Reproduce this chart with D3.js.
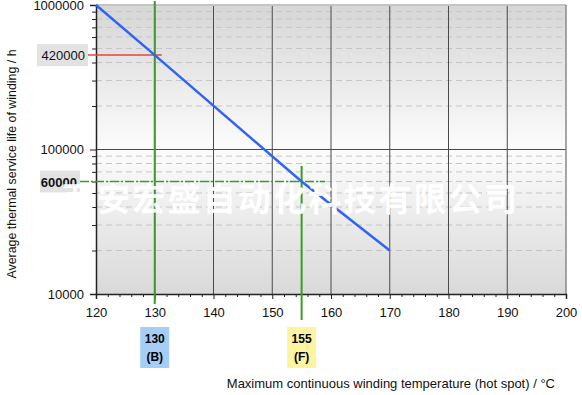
<!DOCTYPE html>
<html>
<head>
<meta charset="utf-8">
<script src="https://cdn.jsdelivr.net/npm/d3@7"></script>
<style>
  body { margin: 0; background: #fff; }
  svg { font-family: "Liberation Sans", Arial, sans-serif; }
</style>
</head>
<body>
<svg id="chart"></svg>
<script>
// life curve
const lifeTemps = [120, 130, 155, 170];
const lifeHours = [1000000, 450000, 60000, 20000];

// insulation classes
const classTemps = [130, 155];
const classLabels = ["130", "155"];
const classLetters = ["(B)", "(F)"];

// reference lives
const refLifeValues = [450000, 60000];
const refLifeLabels = ["420000", "60000"];

const xTicks = [120, 130, 140, 150, 160, 170, 180, 190, 200];
const yTicks = [10000, 100000, 1000000];

const width = 582, height = 395;
const plotL = 96, plotR = 566, plotT = 5, plotB = 294;

const svg = d3.select("#chart").attr("width", width).attr("height", height);

const x = d3.scaleLinear().domain([120, 200]).range([plotL, plotR]);
const y = d3.scaleLog().domain([10000, 1000000]).range([plotB, plotT]);

// background gradient
const defs = svg.append("defs");
const grad = defs.append("linearGradient").attr("id", "bg")
  .attr("x1", 0).attr("y1", 0).attr("x2", 0).attr("y2", 1);
grad.append("stop").attr("offset", "0%").attr("stop-color", "#d6d6d6");
grad.append("stop").attr("offset", "50%").attr("stop-color", "#fcfcfc");
grad.append("stop").attr("offset", "100%").attr("stop-color", "#d9d9d9");

svg.append("rect")
  .attr("x", plotL).attr("y", plotT)
  .attr("width", plotR - plotL).attr("height", plotB - plotT)
  .attr("fill", "url(#bg)");

// minor horizontal dashed grid
let minors = [];
[10000, 100000].forEach(d => { for (let k = 2; k <= 9; k++) minors.push(d * k); });
svg.append("g").selectAll("line").data(minors).join("line")
  .attr("x1", plotL).attr("x2", plotR)
  .attr("y1", d => y(d)).attr("y2", d => y(d))
  .attr("stroke", "#c6c6c6").attr("stroke-dasharray", "6,4");

// major grid
svg.append("g").selectAll("line").data(xTicks.slice(1, -1)).join("line")
  .attr("x1", d => x(d)).attr("x2", d => x(d))
  .attr("y1", plotT).attr("y2", plotB)
  .attr("stroke", "#4a4a4a");
svg.append("line")
  .attr("x1", plotL).attr("x2", plotR)
  .attr("y1", y(100000)).attr("y2", y(100000))
  .attr("stroke", "#4a4a4a");

// frame
svg.append("line").attr("x1", plotL).attr("x2", plotR).attr("y1", plotT).attr("y2", plotT)
  .attr("stroke", "#c4c4c4").attr("stroke-width", 2);
svg.append("line").attr("x1", plotR).attr("x2", plotR).attr("y1", plotT).attr("y2", plotB)
  .attr("stroke", "#888").attr("stroke-width", 1.5);

// axes
svg.append("g").attr("transform", `translate(0,${plotB})`)
  .call(d3.axisBottom(x).tickValues(xTicks).tickSize(5).tickPadding(9).tickFormat(d3.format("d")));
svg.append("g").attr("transform", `translate(0,${plotB})`)
  .call(d3.axisBottom(x).tickValues(d3.range(122, 200, 2).filter(d => d % 10)).tickSize(3).tickFormat(""))
  .select(".domain").remove();
const yAxis = svg.append("g").attr("transform", `translate(${plotL},0)`)
  .call(d3.axisLeft(y).tickValues(yTicks).tickSize(6).tickPadding(6).tickFormat(d3.format("d")));
svg.append("g").attr("transform", `translate(${plotL},0)`)
  .call(d3.axisLeft(y).tickValues(minors).tickSize(4).tickFormat(""))
  .select(".domain").remove();

svg.selectAll(".domain").attr("stroke", "#222").attr("stroke-width", 1.5);
svg.selectAll(".tick line").attr("stroke", "#222");
svg.selectAll(".tick text").attr("font-size", 13).attr("fill", "#111")
  .attr("font-family", "Liberation Sans, Arial, sans-serif");
yAxis.selectAll(".tick text").attr("x", -12);

// reference lines
const green = "#3c9a2c";
svg.append("line")
  .attr("x1", x(130)).attr("x2", x(130))
  .attr("y1", 1).attr("y2", 304)
  .attr("stroke", green).attr("stroke-width", 2);
svg.append("line")
  .attr("x1", x(155)).attr("x2", x(155))
  .attr("y1", 166).attr("y2", 320)
  .attr("stroke", green).attr("stroke-width", 2);

svg.append("line")
  .attr("x1", 88).attr("x2", x(131.2))
  .attr("y1", y(refLifeValues[0])).attr("y2", y(refLifeValues[0]))
  .attr("stroke", "#e2483e").attr("stroke-width", 1.5);
svg.append("line")
  .attr("x1", 80).attr("x2", x(159))
  .attr("y1", y(refLifeValues[1])).attr("y2", y(refLifeValues[1]))
  .attr("stroke", green).attr("stroke-width", 1.5)
  .attr("stroke-dasharray", "9,2,2,2");

// life curve
svg.append("path")
  .datum(lifeTemps.map((t, i) => [t, lifeHours[i]]))
  .attr("fill", "none")
  .attr("stroke", "#2f64f5").attr("stroke-width", 2.5)
  .attr("d", d3.line().x(d => x(d[0])).y(d => y(d[1])));

// reference life labels
const refBoxes = [{ x: 37, w: 51, bold: false }, { x: 40, w: 40, bold: true }];
refLifeValues.forEach((v, i) => {
  const cy = y(v);
  svg.append("rect")
    .attr("x", refBoxes[i].x).attr("y", cy - 11)
    .attr("width", refBoxes[i].w).attr("height", 22)
    .attr("fill", "#e2e2e2");
  svg.append("text")
    .attr("x", refBoxes[i].x + refBoxes[i].w - 3).attr("y", cy + 5)
    .attr("text-anchor", "end")
    .attr("font-size", 13)
    .attr("font-weight", refBoxes[i].bold ? "bold" : "normal")
    .attr("fill", "#111")
    .text(refLifeLabels[i]);
});

// class boxes
const classFill = ["#a5cdf6", "#fdf4a2"];
classTemps.forEach((t, i) => {
  const cx = x(t);
  svg.append("rect")
    .attr("x", cx - 14.5).attr("y", 327)
    .attr("width", 29).attr("height", 41)
    .attr("fill", classFill[i]);
  svg.append("text")
    .attr("x", cx).attr("y", 343)
    .attr("text-anchor", "middle").attr("font-size", 12).attr("font-weight", "bold")
    .text(classLabels[i]);
  svg.append("text")
    .attr("x", cx).attr("y", 361)
    .attr("text-anchor", "middle").attr("font-size", 12).attr("font-weight", "bold")
    .text(classLetters[i]);
});

// axis titles
svg.append("text")
  .attr("x", 555).attr("y", 388)
  .attr("text-anchor", "end").attr("font-size", 13).attr("fill", "#111")
  .text("Maximum continuous winding temperature (hot spot) / °C");
svg.append("text")
  .attr("transform", "translate(16,164) rotate(-90)")
  .attr("text-anchor", "middle").attr("font-size", 12.4).attr("fill", "#111")
  .text("Average thermal service life of winding / h");

// watermark
svg.append("text")
  .attr("x", 62).attr("y", 211)
  .attr("font-family", "Noto Sans CJK SC, sans-serif")
  .attr("font-size", 33).attr("font-weight", "bold")
  .attr("textLength", 455).attr("lengthAdjust", "spacing")
  .attr("fill", "#fff")
  .attr("opacity", 0.95)
  .text("西安宏盛自动化科技有限公司");
</script>
</body>
</html>
